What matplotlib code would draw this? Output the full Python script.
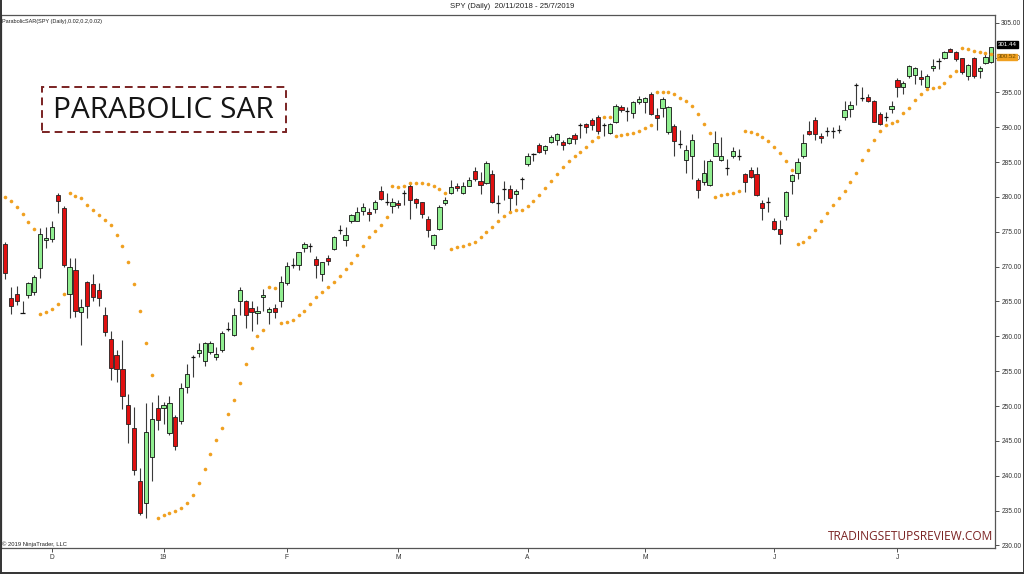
import numpy as np
import matplotlib
matplotlib.use('Agg')
import matplotlib.pyplot as plt
from matplotlib.patches import Rectangle
from matplotlib.lines import Line2D

# SPY daily bars (bar 1 = 19/11/2018 ... bar 169 = 25/7/2019)
opens = [273.2, 265.5, 266.0, 263.4, 265.9, 266.4, 269.76, 273.8, 273.9, 280.3,
         278.46, 266.0, 269.5, 263.45, 267.85, 267.5, 266.6, 263.1, 259.6, 257.3,
         255.3, 250.1, 246.8, 239.2, 236.05, 242.7, 249.7, 249.7, 246.1, 248.4,
         247.8, 252.8, 257.0, 257.6, 256.4, 257.8, 257.0, 258.0, 261.0, 260.2,
         265.1, 265.0, 264.1, 263.3, 265.7, 263.5, 264.0, 265.1, 267.6, 270.2,
         270.2, 272.6, 273.0, 271.1, 268.96, 271.3, 272.5, 275.2, 273.8, 276.5,
         276.6, 277.95, 277.9, 278.2, 280.8, 279.3, 278.7, 279.1, 280.6, 281.6,
         279.7, 279.2, 276.9, 273.1, 275.4, 279.1, 280.5, 281.5, 280.6, 281.6,
         283.7, 282.25, 281.95, 283.3, 279.1, 281.1, 281.2, 280.4, 282.6, 284.7,
         286.2, 287.45, 286.7, 287.9, 288.1, 287.9, 287.8, 288.9, 290.3, 290.4,
         291.0, 291.5, 290.3, 289.2, 290.7, 292.85, 292.3, 292.1, 293.6, 293.6,
         294.8, 291.75, 292.8, 289.3, 290.2, 287.6, 285.3, 285.8, 282.4, 282.1,
         281.7, 285.9, 285.3, 284.2, 285.9, 285.8, 283.25, 283.9, 283.25, 279.1,
         279.3, 276.5, 275.4, 277.2, 282.35, 283.4, 285.9, 289.5, 291.0, 288.8,
         289.5, 289.4, 289.6, 291.4, 292.6, 296.1, 294.25, 294.4, 293.8, 291.9,
         291.5, 292.6, 296.8, 295.7, 297.3, 297.5, 297.2, 295.7, 298.45, 299.55,
         299.9, 301.2, 300.75, 299.9, 297.3, 300.0, 298.05, 299.2, 299.3]
highs = [273.5, 267.1, 267.2, 265.0, 267.85, 268.8, 275.5, 275.7, 276.5, 280.5,
         278.7, 271.3, 271.3, 265.3, 267.95, 269.0, 267.6, 264.2, 260.7, 258.0,
         259.5, 251.7, 249.9, 241.1, 250.4, 250.6, 251.6, 250.6, 251.4, 248.7,
         253.3, 256.1, 257.3, 259.0, 259.2, 259.3, 258.4, 260.7, 262.1, 264.0,
         267.1, 265.2, 265.0, 264.4, 266.8, 264.2, 264.6, 268.6, 270.6, 271.2,
         272.15, 273.6, 273.35, 271.5, 270.7, 271.7, 274.4, 276.0, 275.65, 277.6,
         278.6, 279.1, 278.4, 279.6, 281.5, 280.5, 279.8, 279.6, 281.0, 282.0,
         279.9, 279.3, 277.2, 274.7, 278.85, 280.0, 282.4, 282.0, 282.2, 282.8,
         284.35, 283.6, 285.2, 283.9, 280.3, 282.3, 281.7, 281.2, 282.8, 286.3,
         286.35, 287.8, 287.5, 288.9, 289.1, 288.2, 288.6, 289.1, 290.6, 290.6,
         291.3, 291.8, 290.65, 290.6, 293.3, 293.2, 292.95, 293.8, 294.5, 294.4,
         295.1, 292.7, 294.4, 293.1, 290.4, 289.6, 287.5, 289.0, 282.7, 285.3,
         285.5, 289.4, 288.6, 285.5, 287.1, 286.9, 283.5, 284.35, 284.35, 279.6,
         280.0, 277.0, 276.7, 280.9, 283.25, 285.6, 289.0, 290.9, 291.5, 289.1,
         290.1, 290.1, 290.3, 293.7, 293.8, 296.3, 295.7, 294.7, 293.9, 292.2,
         292.2, 293.7, 297.0, 296.6, 298.9, 298.7, 298.2, 297.6, 299.8, 299.9,
         300.9, 301.3, 300.9, 300.0, 299.0, 300.1, 298.8, 300.8, 301.5]
lows = [268.2, 263.2, 264.5, 263.3, 265.5, 265.9, 268.3, 272.6, 273.5, 277.65,
        270.0, 262.6, 262.8, 258.7, 262.7, 265.0, 264.3, 260.0, 253.7, 253.5,
        249.6, 244.7, 240.1, 234.4, 233.9, 239.2, 246.6, 247.4, 245.9, 243.7,
        247.4, 251.8, 254.2, 257.0, 255.7, 257.5, 256.6, 257.8, 260.7, 260.0,
        263.1, 261.2, 260.8, 261.8, 263.7, 261.8, 262.6, 264.2, 267.4, 269.8,
        269.5, 272.05, 272.05, 268.3, 268.0, 270.3, 272.4, 274.7, 272.9, 276.3,
        276.5, 277.4, 276.5, 277.7, 279.5, 278.9, 277.7, 278.4, 278.9, 276.9,
        278.4, 277.0, 274.2, 272.5, 275.3, 278.85, 280.4, 280.8, 280.4, 281.5,
        282.3, 280.4, 281.9, 279.1, 277.7, 279.6, 278.0, 278.8, 281.2, 284.5,
        285.2, 286.35, 286.2, 287.8, 287.5, 286.7, 287.6, 287.6, 288.4, 289.2,
        289.6, 289.0, 288.75, 289.0, 290.6, 292.2, 290.9, 291.3, 293.4, 292.0,
        291.75, 289.6, 291.5, 289.0, 285.9, 287.0, 283.4, 282.6, 279.8, 281.7,
        281.6, 285.8, 285.2, 283.2, 285.6, 285.3, 280.7, 282.7, 280.2, 276.7,
        277.9, 275.3, 273.2, 276.7, 280.4, 282.6, 285.6, 288.9, 288.2, 287.8,
        288.7, 288.5, 289.1, 291.0, 291.5, 293.2, 293.8, 293.6, 290.7, 290.3,
        290.9, 292.0, 294.4, 294.7, 297.1, 296.2, 296.1, 295.5, 298.0, 298.4,
        299.8, 300.75, 299.5, 297.7, 296.8, 297.0, 297.1, 299.0, 299.2]
closes = [269.1, 264.3, 265.1, 263.4, 267.6, 268.5, 274.7, 274.1, 275.7, 279.4,
          270.3, 270.0, 263.6, 264.2, 264.3, 265.6, 265.5, 260.6, 255.5, 255.3,
          251.45, 247.4, 240.8, 234.6, 246.3, 248.2, 247.95, 250.1, 250.4, 244.3,
          252.6, 254.6, 257.0, 258.1, 259.1, 259.1, 257.5, 260.5, 261.0, 263.1,
          266.6, 263.0, 263.5, 263.7, 265.9, 263.9, 263.5, 267.75, 270.1, 270.2,
          272.05, 273.25, 273.0, 270.3, 270.6, 270.8, 274.2, 275.2, 274.5, 277.4,
          277.9, 278.5, 277.6, 279.3, 279.7, 279.3, 279.3, 278.8, 280.6, 279.5,
          279.1, 277.5, 275.2, 274.5, 278.5, 279.6, 281.4, 281.3, 281.5, 282.4,
          282.5, 281.7, 284.8, 279.3, 279.1, 281.1, 279.8, 280.8, 282.6, 285.9,
          286.2, 286.5, 287.3, 288.65, 289.0, 287.5, 288.4, 288.3, 290.3, 290.0,
          290.3, 289.5, 290.3, 290.4, 293.05, 292.4, 292.3, 293.6, 294.0, 294.15,
          291.85, 291.3, 294.1, 292.9, 288.0, 287.6, 286.8, 288.2, 281.0, 283.5,
          285.2, 287.7, 285.9, 284.2, 286.6, 285.8, 282.2, 282.9, 280.3, 278.4,
          279.3, 275.4, 274.7, 280.7, 283.1, 285.0, 287.7, 289.0, 289.0, 288.5,
          289.5, 289.4, 289.6, 292.5, 293.2, 296.1, 294.25, 293.7, 290.8, 290.5,
          291.5, 293.1, 295.7, 296.4, 298.8, 298.55, 296.9, 297.4, 298.8, 299.55,
          300.75, 300.85, 299.8, 297.9, 298.9, 297.3, 298.5, 300.1, 301.44]

# ParabolicSAR(0.02, 0.2, 0.02) dots
sar = [279.94, 279.46, 278.5, 277.55, 276.45, 275.4, 263.2, 263.5, 263.9, 264.7,
       266.0, 280.5, 280.1, 279.8, 278.9, 278.1, 277.4, 276.7, 275.9, 274.5,
       273.0, 270.6, 267.5, 263.7, 259.0, 254.5, 234.0, 234.4, 234.7, 235.0,
       235.4, 236.1, 237.3, 238.9, 240.9, 243.1, 245.1, 246.8, 248.8, 250.9,
       253.3, 256.0, 258.3, 260.1, 260.9, 267.1, 267.0, 261.9, 262.1, 262.4,
       263.0, 263.7, 264.7, 265.66, 266.4, 267.1, 267.8, 268.6, 269.6, 270.5,
       271.6, 273.0, 274.2, 275.1, 276.0, 277.1, 281.5, 281.4, 281.6, 282.0,
       282.0, 282.0, 281.9, 281.6, 281.1, 280.5, 272.5, 272.8, 273.0, 273.2,
       273.6, 274.2, 274.9, 275.7, 276.5, 277.2, 277.8, 278.1, 278.1, 278.7,
       279.4, 280.3, 281.3, 282.3, 283.3, 284.3, 285.2, 285.9, 286.5, 287.2,
       288.0, 288.6, 291.5, 291.5, 288.8, 288.9, 289.0, 289.2, 289.5, 289.9,
       290.3, 295.1, 295.1, 295.0, 294.7, 294.2, 293.8, 293.0, 291.9, 290.4,
       289.1, 280.0, 280.3, 280.4, 280.5, 280.9, 289.5, 289.3, 289.0, 288.65,
       288.0, 287.2, 286.3, 285.1, 283.8, 273.3, 273.6, 274.2, 275.3, 276.5,
       277.7, 278.8, 279.8, 280.8, 282.1, 283.5, 285.3, 286.8, 288.1, 289.4,
       290.3, 290.6, 290.9, 292.0, 292.8, 293.9, 294.7, 295.5, 295.6, 295.7,
       296.4, 297.35, 298.1, 301.3, 301.2, 300.95, 300.8, 300.65, 300.52]

month_ticks = [9, 28, 49, 68, 90, 110, 132, 153]
month_labels = ['D', '19', 'F', 'M', 'A', 'M', 'J', 'J']
price_ticks = np.arange(230, 306, 5)

UP = '#90ee90'
DOWN = '#e01010'
SAR_COLOR = '#f0a020'
BASE_FONT = ['Liberation Sans', 'DejaVu Sans']

o = np.array(opens)
h = np.array(highs)
l = np.array(lows)
c = np.array(closes)
x = np.arange(1, len(o) + 1)

fig = plt.figure(figsize=(10.24, 5.74), dpi=100)
ax = fig.add_axes([1 / 1024, 1 - 548 / 574, 994 / 1024, 533 / 574])

# wicks
ax.vlines(x, l, h, color='#3a3a3a', linewidth=0.8, zorder=2)

# bodies
doji = np.abs(c - o) < 0.06
up = (c > o) & ~doji
dn = (c < o) & ~doji
w = 0.72
ax.bar(x[up], (c - o)[up], bottom=o[up], width=w, color=UP,
       edgecolor='#111111', linewidth=0.6, zorder=3)
ax.bar(x[dn], (o - c)[dn], bottom=c[dn], width=w, color=DOWN,
       edgecolor='#222222', linewidth=0.6, zorder=3)
ax.hlines(c[doji], x[doji] - w / 2, x[doji] + w / 2, color='#111111',
          linewidth=0.9, zorder=3)

# parabolic SAR dots
ax.plot(x, sar, linestyle='none', marker='o', markersize=2.6,
        color=SAR_COLOR, markeredgewidth=0, zorder=4)

ax.set_xlim(0.32, 169.62)
ax.set_ylim(229.63, 306.1)

ax.yaxis.tick_right()
ax.set_yticks(price_ticks)
ax.set_yticklabels([f'{v:.2f}' for v in price_ticks])
ax.set_xticks(month_ticks)
ax.set_xticklabels(month_labels)
ax.tick_params(axis='y', direction='out', length=3, width=0.6, pad=1.5,
               labelsize=4.8, colors='#333333')
ax.tick_params(axis='x', direction='out', length=3, width=0.6, pad=1.5,
               labelsize=4.8, colors='#333333')
for lab in ax.get_xticklabels() + ax.get_yticklabels():
    lab.set_family(BASE_FONT)
for s in ax.spines.values():
    s.set_color('#555555')
    s.set_linewidth(0.9)

# last price / last SAR markers on the price scale
ax.annotate(f'{closes[-1]:.2f}', xy=(1.0, closes[-1]), xycoords=('axes fraction', 'data'),
            xytext=(2, 2.2), textcoords='offset points', va='center', ha='left',
            fontsize=4.4, color='white', family=BASE_FONT,
            bbox=dict(boxstyle='square,pad=0.12', fc='black', ec='black'),
            annotation_clip=False, zorder=6)
ax.annotate(f'{sar[-1]:.2f}', xy=(1.0, sar[-1]), xycoords=('axes fraction', 'data'),
            xytext=(2, -2.2), textcoords='offset points', va='center', ha='left',
            fontsize=4.4, color='#6b4a00', family=BASE_FONT,
            bbox=dict(boxstyle='square,pad=0.12', fc=SAR_COLOR, ec=SAR_COLOR),
            annotation_clip=False, zorder=5)

# texts
fig.text(0.5, 1 - 7 / 574, 'SPY (Daily)  20/11/2018 - 25/7/2019', ha='center',
         va='center', fontsize=5.6, color='#222222', family=BASE_FONT)
fig.text(2.5 / 1024, 1 - 22 / 574, 'ParabolicSAR(SPY (Daily),0.02,0.2,0.02)',
         ha='left', va='center', fontsize=4.0, color='#222222', family=BASE_FONT)
fig.text(2.5 / 1024, 1 - 544 / 574, '\u00a9 2019 NinjaTrader, LLC', ha='left',
         va='center', fontsize=4.2, color='#222222', family=BASE_FONT)

# title box
fig.patches.append(Rectangle((42 / 1024, 1 - 132 / 574), 244 / 1024, 45 / 574,
                             transform=fig.transFigure, fill=False,
                             edgecolor='#7a2323', linewidth=1.4,
                             linestyle=(0, (4, 2.5)), zorder=10))
fig.text(163.5 / 1024, 1 - 110 / 574, 'PARABOLIC SAR', ha='center', va='center',
         fontsize=21.5, color='#151515', family=['Open Sans', 'DejaVu Sans'])
fig.text(993 / 1024, 1 - 537 / 574, 'TRADINGSETUPSREVIEW.COM', ha='right',
         va='center', fontsize=8.6, color='#7a2323',
         family=['Open Sans', 'DejaVu Sans'])

# image frame
for seg in [((0.5 / 1024, 0.5 / 1024), (0, 1)),
            ((1023.5 / 1024, 1023.5 / 1024), (0, 1)),
            ((0, 1), (0.8 / 574, 0.8 / 574))]:
    fig.add_artist(Line2D(seg[0], seg[1], color='#333333', linewidth=1.4,
                          transform=fig.transFigure))

fig.savefig('out.png', dpi=100)
